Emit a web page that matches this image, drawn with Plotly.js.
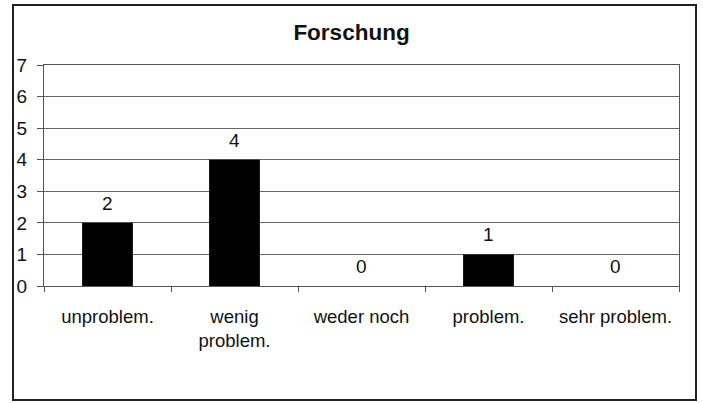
<!DOCTYPE html>
<html>
<head>
<meta charset="utf-8">
<script src="https://cdn.plot.ly/plotly-3.0.1.min.js"></script>
<style>
  html, body { margin: 0; padding: 0; background: #fff; }
  #wrap { position: relative; width: 703px; height: 403px; }
  #chart { position: absolute; left: 0; top: 0; width: 703px; height: 403px; }
  #frame { position: absolute; left: 12px; top: 4px; width: 681px; height: 393px; border: 2px solid #222; pointer-events: none; }
</style>
</head>
<body>
<div id="wrap">
  <div id="chart"></div>
  <div id="frame"></div>
</div>
<script>
const categories = ["unproblem.", "wenig<br>problem.", "weder noch", "problem.", "sehr problem."];
const values = [2, 4, 0, 1, 0];
const yTicks = [0, 1, 2, 3, 4, 5, 6, 7];
const chartTitle = "Forschung";

const fontFam = "Liberation Sans, Arial, sans-serif";

const labelAnnotations = categories.map((c, i) => ({
  x: c, y: values[i], xref: "x", yref: "y",
  text: String(values[i]),
  showarrow: false,
  yanchor: "bottom",
  yshift: 7,
  font: { family: fontFam, size: 19, color: "#111" }
}));

Plotly.newPlot("chart", [{
  type: "bar",
  x: categories,
  y: values,
  marker: { color: "#000", line: { width: 0 } },
  hoverinfo: "none"
}], {
  width: 703,
  height: 403,
  margin: { l: 44, r: 24, t: 65, b: 117 },
  paper_bgcolor: "#fff",
  plot_bgcolor: "#fff",
  bargap: 0.6,
  showlegend: false,
  annotations: labelAnnotations,
  title: {
    text: "<b>" + chartTitle + "</b>",
    font: { family: fontFam, size: 22.5, color: "#111" },
    x: 0.5, xanchor: "center",
    y: 1 - 32 / 403, yanchor: "middle"
  },
  xaxis: {
    type: "category",
    tickson: "boundaries",
    ticks: "outside",
    ticklen: 5,
    tickcolor: "#555",
    showgrid: false,
    showline: true,
    linecolor: "#555",
    linewidth: 1,
    mirror: true,
    tickfont: { family: fontFam, size: 18.5, color: "#111" },
    ticklabelstandoff: 14
  },
  yaxis: {
    range: [0, 7],
    tickvals: yTicks,
    ticks: "outside",
    ticklen: 6,
    tickcolor: "#555",
    showgrid: true,
    gridcolor: "#666",
    gridwidth: 1,
    showline: true,
    linecolor: "#555",
    mirror: true,
    zeroline: false,
    tickfont: { family: fontFam, size: 19, color: "#111" },
    ticklabelstandoff: 6
  },
  font: { family: fontFam }
}, { staticPlot: true });
</script>
</body>
</html>
